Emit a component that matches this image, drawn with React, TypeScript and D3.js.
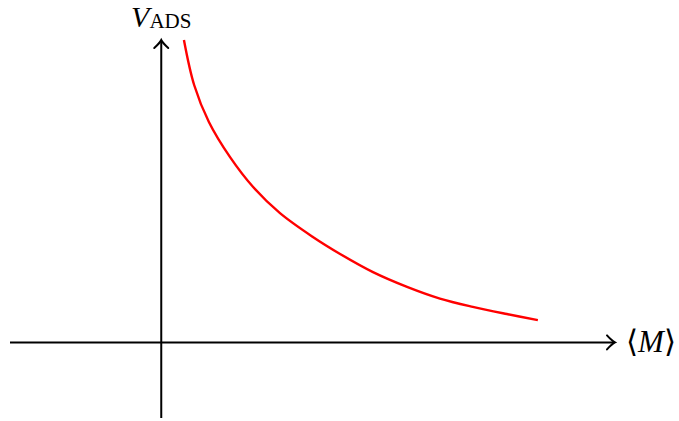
import React from "react";
import * as d3 from "d3";

// curve (axis units)
const curveX = [0.6, 0.87, 1.26, 1.82, 2.43, 3.14, 4.01, 4.73, 5.6, 6.5, 7.37, 8.24, 9.14, 9.96];
const curveY = [8.0, 6.81, 5.83, 4.9, 4.11, 3.42, 2.79, 2.34, 1.86, 1.47, 1.16, 0.94, 0.75, 0.59];

const xExtent = [-4, 12];
const yExtent = [-2, 8];

const W = 679;
const H = 421;

const App = () => {
  const x = d3.scaleLinear().domain(xExtent).range([10, 615]);
  const y = d3.scaleLinear().domain(yExtent).range([418, 40]);

  const pts: [number, number][] = curveX.map((v, i) => [v, curveY[i]]);
  const line = d3.line<[number, number]>()
    .x(d => x(d[0]))
    .y(d => y(d[1]))
    .curve(d3.curveCatmullRom.alpha(0.5));

  const x0 = x(0);
  const y0 = y(0);
  const font = "'Liberation Serif', 'DejaVu Serif', serif";

  // tikz-ish arrow tip, pointing right at (0,0)
  const tip = "M-8,-7 Q-3,-1.5 0,0 Q-3,1.5 -8,7";

  return (
    <svg width={W} height={H} style={{ position: "absolute", left: 0, top: 0 }}>
      <rect width={W} height={H} fill="#fff" />
      {/* axes */}
      <line x1={x(xExtent[0])} x2={x(xExtent[1]) - 1} y1={y0} y2={y0} stroke="#000" strokeWidth={2} />
      <line x1={x0} x2={x0} y1={y(yExtent[0])} y2={y(yExtent[1]) + 1} stroke="#000" strokeWidth={2} />
      <path d={tip} transform={`translate(${x(xExtent[1])},${y0})`} fill="none" stroke="#000" strokeWidth={2} strokeLinecap="round" />
      <path d={tip} transform={`translate(${x0},${y(yExtent[1])}) rotate(-90)`} fill="none" stroke="#000" strokeWidth={2} strokeLinecap="round" />

      {/* curve */}
      <path d={line(pts) || ""} fill="none" stroke="#ff0000" strokeWidth={2.4} />

      {/* labels */}
      <text x={x0} y={27} textAnchor="middle" fontFamily={font} fill="#000">
        <tspan fontStyle="italic" fontSize={30}>V</tspan>
        <tspan fontSize={21} dy={1}>ADS</tspan>
      </text>
      <text x={626} y={352} fontFamily={font} fontSize={31} fill="#000">
        ⟨<tspan fontStyle="italic">M</tspan>⟩
      </text>
    </svg>
  );
};

export default App;
